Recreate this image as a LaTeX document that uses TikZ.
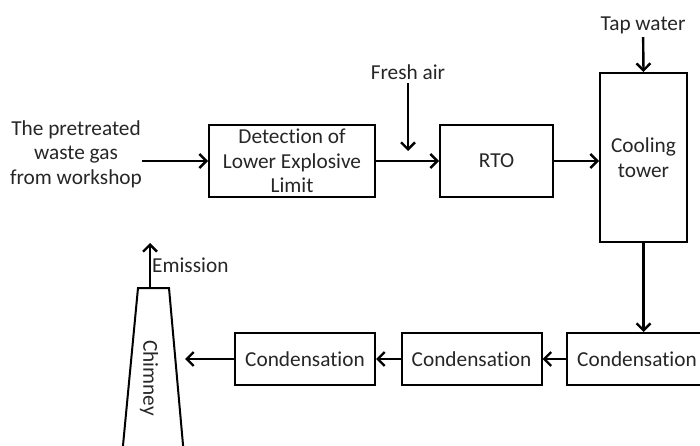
\documentclass[tikz,border=0pt]{standalone}
\usepackage{fontspec}
\setmainfont{Carlito}[Ligatures=NoCommon]
\usetikzlibrary{arrows.meta,positioning}

\begin{document}
\begin{tikzpicture}[x=1pt, y=-1pt,
            every node/.style={font=\fontsize{21.3}{24.5}\selectfont, text=black!85},
            unit/.style={draw, line width=2pt, align=center, inner sep=0pt, minimum height=72pt},
            cond/.style={draw, line width=2pt, inner sep=0pt, minimum width=140pt, minimum height=52pt},
            flow/.style={line width=2.4pt, -{Straight Barb[length=7pt, width=14pt, line width=2.4pt]}}]
            \clip (0,0) rectangle (700,446);
            \node[align=center, inner sep=0pt] (gas) at (76,154) {The pretreated\\waste gas\\from workshop};
            \node[unit, minimum width=166pt] (lel)   at (292,161)   {Detection of\\Lower Explosive\\Limit};
            \node[unit, minimum width=113pt] (rto)   at (496.5,161) {RTO};
            \node[unit, minimum width=87pt, minimum height=169pt] (tower) at (643.5,157.5) {Cooling\\tower};
            \node (air) at (408,72) {Fresh air};
            \node (tap) at (643,25) {Tap water};
            \node[cond] (c3) at (637,359) {Condensation};
            \node[cond] (c2) at (471.5,359) {Condensation};
            \node[cond] (c1) at (305,359) {Condensation};
            % chimney
            \draw[line width=2pt] (122,456) -- (138,288) -- (169,288) -- (184,456);
            \node[rotate=-90] (chimney) at (149,378) {Chimney};
            \coordinate (chtop) at (150,288);
            \coordinate (emit)  at (150,243);
            \coordinate (stack) at (185,359);
            \coordinate (mix)   at (408,151);
            \node[right, inner sep=2pt] (emission) at (150,265) {Emission};
            % flows
            \draw[flow] (gas.east |- lel.west) -- (lel.west);
            \draw[flow] (lel.east) -- (rto.west);
            \draw[flow] (air) -- (mix);
            \draw[flow] (rto.east) -- (rto.east -| tower.west);
            \draw[flow] (tap) -- (tower.north);
            \draw[flow] (tower.south) -- (tower.south |- c3.north);
            \draw[flow] (c3) -- (c2);
            \draw[flow] (c2) -- (c1);
            \draw[flow] (c1) -- (stack);
            \draw[flow] (chtop) -- (emit);
\end{tikzpicture}
\end{document}
